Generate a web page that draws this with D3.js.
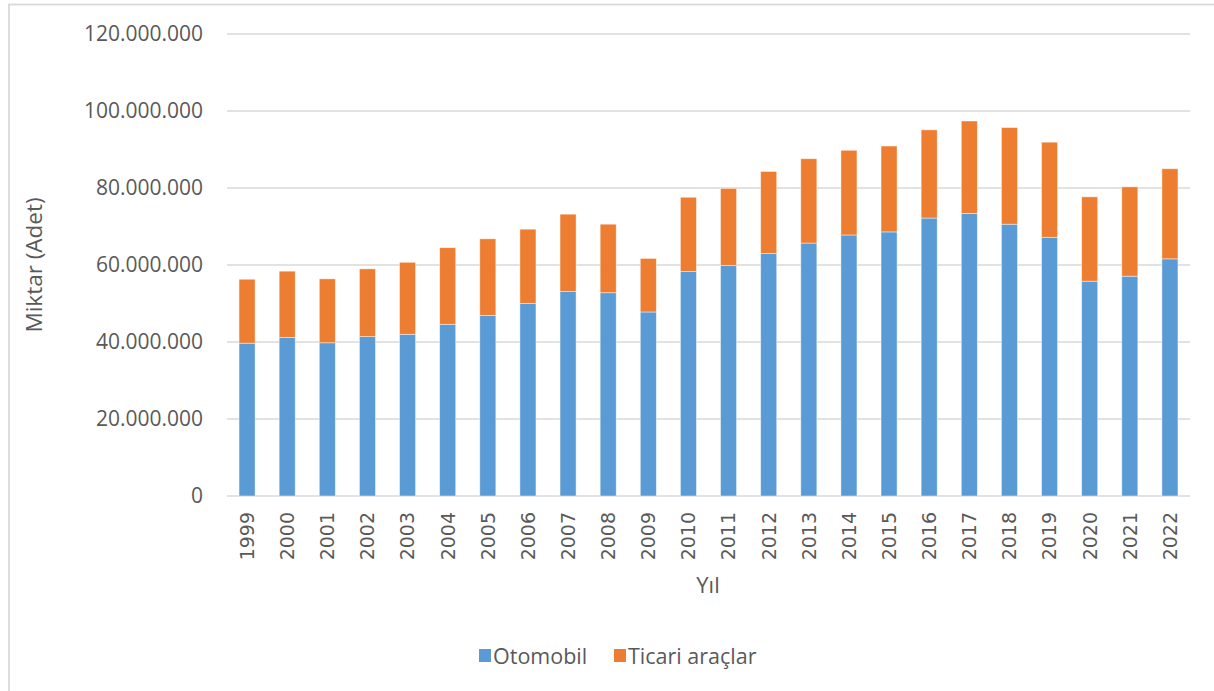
<!DOCTYPE html>
<html lang="tr">
<head>
<meta charset="utf-8">
<script src="https://cdn.jsdelivr.net/npm/d3@7"></script>
<style>
  html, body { margin: 0; padding: 0; background: #fff; }
  svg { display: block; }
</style>
</head>
<body>
<svg id="chart" width="1214" height="691"></svg>
<script>
// Yıllara göre üretim (adet)
const years = ["1999","2000","2001","2002","2003","2004","2005","2006","2007","2008","2009","2010",
               "2011","2012","2013","2014","2015","2016","2017","2018","2019","2020","2021","2022"];
const otomobil = [39700000, 41200000, 39800000, 41400000, 42000000, 44600000, 46900000, 50000000,
                  53100000, 52800000, 47800000, 58300000, 59900000, 63000000, 65700000, 67800000,
                  68600000, 72200000, 73400000, 70600000, 67200000, 55800000, 57100000, 61600000];
const ticari = [16600000, 17200000, 16600000, 17600000, 18700000, 19900000, 19900000, 19300000,
                20100000, 17800000, 13900000, 19300000, 20000000, 21300000, 21900000, 22000000,
                22300000, 22900000, 24000000, 25100000, 24700000, 21900000, 23200000, 23400000];
const seriesNames = ["Otomobil", "Ticari araçlar"];
const seriesColors = ["#5B9BD5", "#ED7D31"];
const yTicks = [0, 20000000, 40000000, 60000000, 80000000, 100000000, 120000000];

const rows = years.map((y, i) => ({ year: y, Otomobil: otomobil[i], "Ticari araçlar": ticari[i] }));

const svg = d3.select("#chart");
const W = 1214, H = 691;
const plot = { left: 227, right: 1190, top: 34, bottom: 496 };
const textColor = "#595959";
const gridColor = "#d9d9d9";

const trLocale = d3.formatLocale({ decimal: ",", thousands: ".", grouping: [3], currency: ["", " ₺"] });
const fmt = trLocale.format(",.0f");

// chart area frame
svg.append("rect")
  .attr("x", 9).attr("y", 4.5)
  .attr("width", W + 20).attr("height", H + 20)
  .attr("fill", "#fff")
  .attr("stroke", gridColor).attr("stroke-width", 1.8);

const x = d3.scaleBand()
  .domain(years)
  .range([plot.left, plot.right])
  .paddingInner(0.6)
  .paddingOuter(0.3);

const y = d3.scaleLinear()
  .domain([0, 120000000])
  .range([plot.bottom, plot.top]);

// horizontal gridlines (the zero line doubles as the category axis)
svg.append("g")
  .selectAll("line")
  .data(yTicks)
  .join("line")
  .attr("x1", plot.left).attr("x2", plot.right)
  .attr("y1", d => y(d)).attr("y2", d => y(d))
  .attr("stroke", gridColor).attr("stroke-width", 1.6);

// value axis labels
const yAxis = d3.axisLeft(y).tickValues(yTicks).tickFormat(fmt).tickSize(0).tickPadding(0);
const gy = svg.append("g").attr("transform", `translate(${plot.left - 24},0)`).call(yAxis);
gy.select(".domain").remove();
gy.selectAll("text")
  .attr("fill", textColor)
  .style("font-family", "'Open Sans', sans-serif")
  .style("font-size", "21px");

// stacked bars
const stack = d3.stack().keys(seriesNames);
const layers = stack(rows);

svg.append("g")
  .selectAll("g")
  .data(layers)
  .join("g")
  .attr("fill", (d, i) => seriesColors[i])
  .selectAll("rect")
  .data(d => d)
  .join("rect")
  .attr("x", d => x(d.data.year))
  .attr("width", x.bandwidth())
  .attr("y", d => y(d[1]))
  .attr("height", d => y(d[0]) - y(d[1]))
  .attr("stroke", "rgba(255,255,255,0.55)")
  .attr("stroke-width", 0.8);

// category axis labels, rotated
const xAxis = d3.axisBottom(x).tickSize(0).tickPadding(0);
const gx = svg.append("g").attr("transform", `translate(0,${plot.bottom})`).call(xAxis);
gx.select(".domain").remove();
gx.selectAll("text")
  .attr("transform", "rotate(-90)")
  .attr("x", -16)
  .attr("y", 0)
  .attr("dy", "0.36em")
  .attr("text-anchor", "end")
  .attr("fill", textColor)
  .style("font-family", "'DejaVu Sans', sans-serif")
  .style("font-size", "19px");

// axis titles
svg.append("text")
  .attr("transform", `translate(42,${(plot.top + plot.bottom) / 2}) rotate(-90)`)
  .attr("text-anchor", "middle")
  .attr("fill", textColor)
  .style("font-family", "'Open Sans', sans-serif")
  .style("font-size", "22.5px")
  .text("Miktar (Adet)");

svg.append("text")
  .attr("x", 708).attr("y", 593)
  .attr("text-anchor", "middle")
  .attr("fill", textColor)
  .style("font-family", "'Open Sans', sans-serif")
  .style("font-size", "22px")
  .text("Yıl");

// legend
const legend = svg.append("g").attr("transform", "translate(479,656)");
const items = legend.selectAll("g")
  .data(seriesNames)
  .join("g")
  .attr("transform", (d, i) => `translate(${i === 0 ? 0 : 135},0)`);
items.append("rect")
  .attr("x", 0).attr("y", -7)
  .attr("width", 12).attr("height", 13)
  .attr("fill", (d, i) => seriesColors[i]);
items.append("text")
  .attr("x", 14).attr("y", 0)
  .attr("dy", "0.36em")
  .attr("fill", textColor)
  .style("font-family", "'Open Sans', sans-serif")
  .style("font-size", "21.5px")
  .text(d => d);
</script>
</body>
</html>
